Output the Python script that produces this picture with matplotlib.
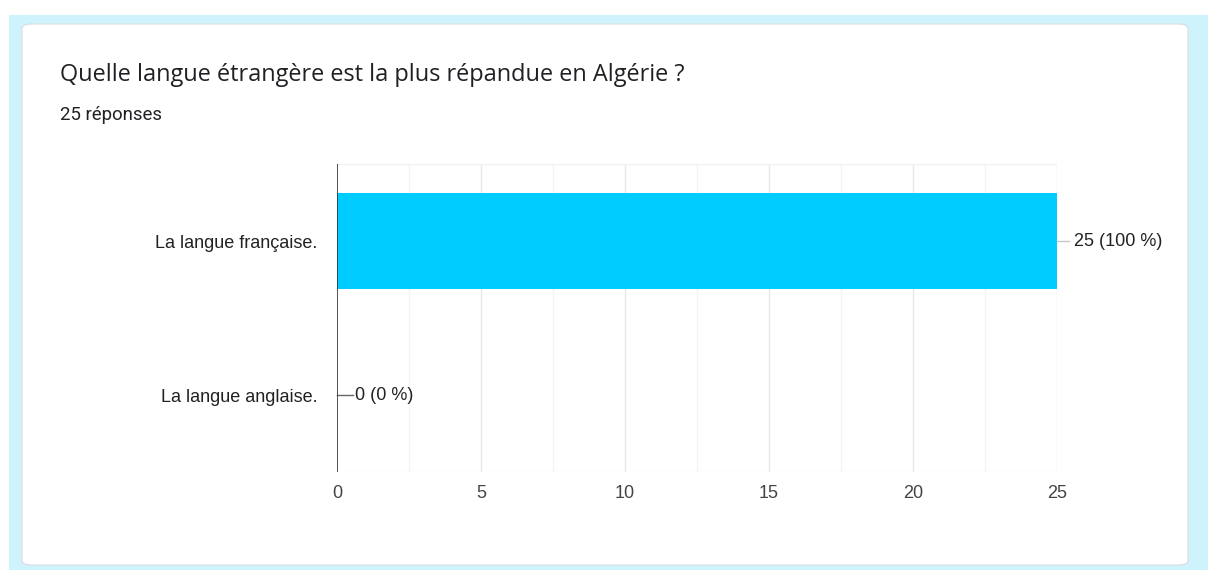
import matplotlib
matplotlib.use("Agg")
import matplotlib.pyplot as plt
from matplotlib.patches import FancyBboxPatch, Rectangle

categories = ["La langue française.", "La langue anglaise."]
counts = [25, 0]
percents = [100, 0]
total = 25
title = "Quelle langue étrangère est la plus répandue en Algérie ?"
xticks = [0, 5, 10, 15, 20, 25]

W, H = 1208, 570
fig = plt.figure(figsize=(W / 100, H / 100), dpi=100)
fig.patch.set_facecolor("white")

# light blue page background and the white card
fig.patches.append(Rectangle((9 / W, 0), 1 - 9 / W, 1 - 15 / H, transform=fig.transFigure,
                             facecolor="#cff3fd", edgecolor="none", zorder=0))
fig.patches.append(FancyBboxPatch((22 / W, 5 / H), (1188 - 22) / W, (546 - 5) / H,
                                  boxstyle="round,pad=0,rounding_size=0.008",
                                  transform=fig.transFigure, facecolor="white",
                                  edgecolor="#dadce0", linewidth=0.8, zorder=0.5))

fig.text(60 / W, 1 - 75 / H, title, fontsize=16.9, family="Open Sans", color="#202124",
         va="center", ha="left")
fig.text(60 / W, 1 - 115 / H, f"{total} réponses", fontsize=13.4, family="Roboto",
         color="#202124", va="center", ha="left")

ax = fig.add_axes([337 / W, 1 - 472 / H, (1057 - 337) / W, (472 - 164) / H])
ax.set_zorder(2)
ax.set_facecolor("none")
y = list(range(len(categories)))
ax.barh(y, counts, height=0.62, color="#00ccff", zorder=2)
ax.set_ylim(len(categories) - 0.5, -0.5)
ax.set_xlim(0, 25)

for v in [2.5, 7.5, 12.5, 17.5, 22.5]:
    ax.axvline(v, color="#f4f4f4", lw=1, zorder=0)
for v in xticks[1:]:
    ax.axvline(v, color="#e8e8e8", lw=1, zorder=0)
ax.axhline(-0.5, color="#f0f0f0", lw=1, zorder=0)
ax.axhline(len(categories) - 0.5, color="#f0f0f0", lw=1, zorder=0)

fs = 13
for i, (c, p) in enumerate(zip(counts, percents)):
    label = f"{c} ({p} %)"
    if c > 0:
        ax.plot([c, c + 0.4], [i, i], color="#c8c8c8", lw=1, clip_on=False)
        ax.text(c + 0.6, i, label, va="center", ha="left", fontsize=fs,
                family="Liberation Sans", color="#222222")
    else:
        ax.plot([c, c + 0.55], [i, i], color="#666666", lw=1, clip_on=False)
        ax.text(c + 0.62, i, label, va="center", ha="left", fontsize=fs,
                family="Liberation Sans", color="#222222")

ax.axvline(0, color="#333333", lw=1.2, zorder=3)
for s in ax.spines.values():
    s.set_visible(False)
ax.set_xticks(xticks)
ax.set_xticklabels([str(t) for t in xticks], fontsize=fs, family="Liberation Sans",
                   color="#444444")
ax.set_yticks(y)
ax.set_yticklabels(categories, fontsize=fs, family="Liberation Sans", color="#222222")
ax.tick_params(length=0, pad=14)
ax.tick_params(axis="x", pad=9)

fig.savefig("out.png", dpi=100)
